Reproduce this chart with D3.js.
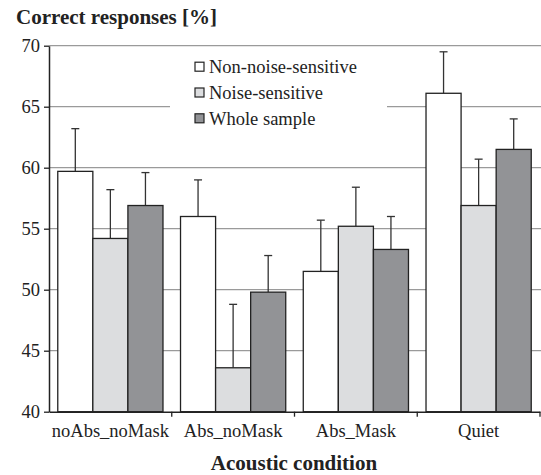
<!DOCTYPE html>
<html>
<head>
<meta charset="utf-8">
<script src="https://cdn.jsdelivr.net/npm/d3@7"></script>
<style>
body { margin: 0; background: #fff; }
svg text { font-family: "Times New Roman", "Liberation Serif", Tinos, "DejaVu Serif", serif !important; }
</style>
</head>
<body>
<div id="chart"></div>
<script>
var categories = ["noAbs_noMask", "Abs_noMask", "Abs_Mask", "Quiet"];
var seriesNames = ["Non-noise-sensitive", "Noise-sensitive", "Whole sample"];
var seriesColors = ["#ffffff", "#dcdddf", "#929396"];
// mean and upper error value per series, one entry per category
var nonSensitive = [59.7, 56.0, 51.5, 66.1];
var nonSensitiveErr = [63.2, 59.0, 55.7, 69.5];
var sensitive = [54.2, 43.6, 55.2, 56.9];
var sensitiveErr = [58.2, 48.8, 58.4, 60.7];
var whole = [56.9, 49.8, 53.3, 61.5];
var wholeErr = [59.6, 52.8, 56.0, 64.0];
var yTicks = [40, 45, 50, 55, 60, 65, 70];

var values = [nonSensitive, sensitive, whole];
var errs = [nonSensitiveErr, sensitiveErr, wholeErr];

var width = 541, height = 475;
var margin = {left: 49, right: 0, top: 45.7, bottom: 63.3};

var svg = d3.select("#chart").append("svg")
    .attr("width", width).attr("height", height);

var x0 = d3.scaleBand().domain(categories)
    .range([margin.left, width - 1]).paddingInner(0).paddingOuter(0);
var x1 = d3.scaleBand().domain(d3.range(seriesNames.length))
    .range([0, x0.bandwidth()]).paddingOuter(0.25).paddingInner(0);
var y = d3.scaleLinear().domain([40, 70]).range([height - margin.bottom, margin.top]);

// gridlines
svg.append("g").selectAll("line")
    .data(yTicks.slice(1))
    .enter().append("line")
    .attr("x1", margin.left).attr("x2", width)
    .attr("y1", function(d){ return y(d); })
    .attr("y2", function(d){ return y(d); })
    .attr("stroke", "#9a9a9a").attr("stroke-width", 1.3);

// legend box hides the grid
svg.append("rect")
    .attr("x", 170).attr("y", 52).attr("width", 217).attr("height", 80)
    .attr("fill", "#fff");

var rows = [];
categories.forEach(function(c, i){
    seriesNames.forEach(function(s, j){
        rows.push({cat: c, s: j, v: values[j][i], e: errs[j][i]});
    });
});

var bars = svg.append("g");
bars.selectAll("line.err").data(rows).enter().append("line")
    .attr("x1", function(d){ return x0(d.cat) + x1(d.s) + x1.bandwidth()/2; })
    .attr("x2", function(d){ return x0(d.cat) + x1(d.s) + x1.bandwidth()/2; })
    .attr("y1", function(d){ return y(d.v); })
    .attr("y2", function(d){ return y(d.e); })
    .attr("stroke", "#333").attr("stroke-width", 1.3);
bars.selectAll("line.cap").data(rows).enter().append("line")
    .attr("x1", function(d){ return x0(d.cat) + x1(d.s) + x1.bandwidth()/2 - 4; })
    .attr("x2", function(d){ return x0(d.cat) + x1(d.s) + x1.bandwidth()/2 + 4; })
    .attr("y1", function(d){ return y(d.e); })
    .attr("y2", function(d){ return y(d.e); })
    .attr("stroke", "#333").attr("stroke-width", 1.3);
bars.selectAll("rect").data(rows).enter().append("rect")
    .attr("x", function(d){ return x0(d.cat) + x1(d.s); })
    .attr("y", function(d){ return y(d.v); })
    .attr("width", x1.bandwidth())
    .attr("height", function(d){ return y(40) - y(d.v); })
    .attr("fill", function(d){ return seriesColors[d.s]; })
    .attr("stroke", "#222").attr("stroke-width", 1.3);

// axes
var yAxis = svg.append("g")
    .attr("transform", "translate(" + margin.left + ",0)")
    .call(d3.axisLeft(y).tickValues(yTicks).tickSize(5).tickPadding(4).tickSizeOuter(0));
var xAxis = svg.append("g")
    .attr("transform", "translate(0," + y(40) + ")")
    .call(d3.axisBottom(x0).tickSize(0).tickPadding(12).tickSizeOuter(0));
xAxis.selectAll(".tick text").attr("dy", "0.71em");
// tick marks between categories
xAxis.selectAll("line.sep")
    .data(categories)
    .enter().append("line")
    .attr("x1", function(d){ return x0(d) + x0.bandwidth(); })
    .attr("x2", function(d){ return x0(d) + x0.bandwidth(); })
    .attr("y1", 0).attr("y2", 5)
    .attr("stroke", "#222").attr("stroke-width", 1.3);

[yAxis, xAxis].forEach(function(a){
    a.attr("font-family", null);
    a.select(".domain").attr("stroke", "#222").attr("stroke-width", 1.5);
    a.selectAll(".tick line").attr("stroke", "#222").attr("stroke-width", 1.3);
    a.selectAll("text").attr("fill", "#222").attr("font-size", "18.5px");
});

// legend
var legend = svg.append("g");
seriesNames.forEach(function(s, i){
    var g = legend.append("g").attr("transform", "translate(195," + (66.7 + i * 25.8) + ")");
    g.append("rect").attr("x", 0).attr("y", -4.5).attr("width", 9).attr("height", 9)
        .attr("fill", seriesColors[i]).attr("stroke", "#222").attr("stroke-width", 1.2);
    g.append("text").attr("x", 14).attr("y", 6.5).attr("font-size", "18.5px").attr("fill", "#222")
        .text(s);
});

// titles
svg.append("text").attr("x", 16).attr("y", 24)
    .attr("font-size", "21px").attr("font-weight", "bold").attr("fill", "#222")
    .text("Correct responses [%]");
svg.append("text").attr("x", 294).attr("y", 470)
    .attr("text-anchor", "middle")
    .attr("font-size", "21px").attr("font-weight", "bold").attr("fill", "#222")
    .text("Acoustic condition");
</script>
</body>
</html>
